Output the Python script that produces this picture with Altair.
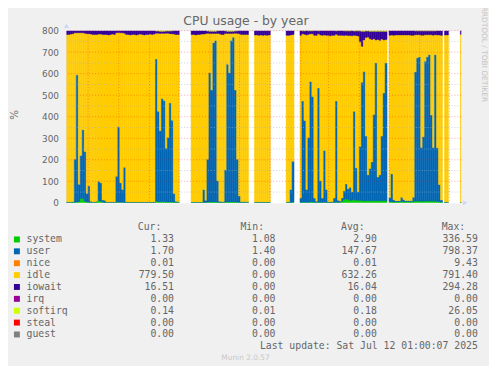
import altair as alt
import pandas as pd

N = None

SERIES = ["system", "user", "nice", "idle", "iowait", "irq", "softirq", "steal", "guest"]
COLORS = ["#00CC00", "#0066B3", "#FF8000", "#FFCC00", "#330099", "#990099", "#CCFF00", "#FF0000", "#808080"]

START = pd.Timestamp("2024-06-09")
STEP = pd.Timedelta(days=2)

# 2-day bins starting 2024-06-09 (None = no data)
user = [
    2, 2, 2, 3, 200, 590, 80, 200, 320, 230,
    40, 76, 5, 2, 2, 3, 90, 85, 10, 10,
    2, 2, 2, 2, 2, 120, 350, 90, 60, 163,
    3, 2, 2, 2, 2, 2, 2, 2, 2, 2,
    2, 2, 2, 2, 3, 660, 420, 330, 480, 470,
    250, 300, 460, 380, 40, 5, 3, N, N, N,
    N, N, N, 2, 2, 2, 2, 2, 2, 60,
    10, 200, 600, 520, 740, 750, 100, 5, 3, 3,
    150, 640, 600, 750, 765, 520, 200, 30, 3, 3,
    3, 3, N, N, N, 2, 2, 2, 2, 2,
    2, 2, 2, N, N, N, N, N, N, N,
    N, 2, 3, 60, 190, N, N, N, 20, 470,
    380, 60, 300, 560, 490, 20, 5, 530, 100, 20,
    240, 60, 3, 3, 3, 20, 470, 10, 5, 15,
    40, 70, 50, 60, 40, 410, 150, 40, 250, 550,
    600, 300, 120, 150, 180, 400, 640, 110, 120, 300,
    500, 640, N, 20, 130, 10, 5, 5, 5, 20,
    10, 5, 5, 5, 5, 20, 600, 665, 670, 250,
    300, 650, 670, 680, 400, 250, 680, 250, 80, 10,
    N, 2, 2, N, N, N, N, N, N, 2,
]
iowait = [
    18, 18, 16, 14, 10, 10, 10, 10, 10, 12,
    14, 14, 16, 18, 18, 18, 16, 16, 18, 18,
    18, 20, 18, 16, 18, 10, 9, 10, 10, 12,
    18, 18, 20, 18, 18, 20, 18, 16, 18, 20,
    18, 18, 16, 18, 16, 10, 10, 10, 9, 10,
    10, 10, 12, 14, 16, 18, 18, N, N, N,
    N, N, N, 18, 18, 20, 18, 18, 16, 16,
    14, 10, 10, 10, 10, 10, 12, 14, 18, 18,
    12, 10, 10, 10, 10, 10, 12, 14, 18, 18,
    18, 18, N, N, N, 20, 20, 22, 20, 22,
    20, 22, 20, N, N, N, N, N, N, N,
    N, 22, 22, 20, 18, N, N, N, 22, 14,
    16, 20, 16, 14, 14, 22, 22, 14, 20, 22,
    20, 22, 22, 24, 22, 22, 16, 22, 22, 22,
    22, 20, 22, 22, 24, 20, 22, 24, 50, 70,
    40, 30, 28, 35, 38, 35, 40, 38, 42, 36,
    40, 38, N, 22, 20, 22, 20, 20, 20, 20,
    20, 20, 20, 20, 22, 22, 18, 18, 18, 20,
    20, 18, 18, 18, 18, 20, 18, 20, 20, 22,
    N, 20, 20, N, N, N, N, N, N, 17,
]
system = [
    2, 2, 2, 2, 3, 4, 6, 20, 20, 8,
    4, 3, 2, 2, 2, 4, 10, 8, 3, 2,
    2, 2, 2, 2, 2, 3, 3, 3, 2, 2,
    2, 2, 2, 2, 2, 2, 2, 2, 2, 2,
    2, 2, 2, 2, 2, 8, 5, 5, 5, 5,
    4, 4, 4, 4, 3, 2, 2, N, N, N,
    N, N, N, 2, 2, 2, 2, 2, 2, 2,
    2, 3, 4, 4, 4, 4, 3, 2, 2, 2,
    3, 4, 4, 4, 4, 4, 3, 2, 2, 2,
    2, 2, N, N, N, 2, 2, 2, 2, 2,
    2, 2, 2, N, N, N, N, N, N, N,
    N, 2, 2, 2, 3, N, N, N, 2, 3,
    3, 2, 3, 4, 4, 2, 2, 3, 2, 2,
    3, 2, 2, 2, 2, 2, 3, 2, 3, 8,
    15, 18, 15, 12, 12, 15, 12, 12, 12, 10,
    10, 10, 10, 10, 10, 10, 10, 10, 10, 10,
    10, 10, N, 5, 5, 4, 4, 4, 5, 6,
    5, 5, 5, 5, 5, 6, 8, 8, 8, 7,
    7, 8, 8, 8, 8, 7, 8, 6, 5, 3,
    N, 2, 2, N, N, N, N, N, N, 1,
]
softirq = [
    0, 0, 0, 0, 0, 0, 0, 0, 0, 0,
    0, 0, 0, 0, 0, 0, 0, 0, 0, 0,
    0, 0, 0, 0, 0, 0, 0, 0, 0, 0,
    0, 0, 0, 0, 0, 0, 0, 0, 0, 0,
    0, 0, 0, 0, 0, 2, 2, 3, 3, 3,
    2, 2, 2, 1, 0, 0, 0, N, N, N,
    N, N, N, 0, 0, 0, 0, 0, 0, 0,
    0, 2, 3, 3, 3, 3, 1, 0, 0, 0,
    1, 3, 3, 3, 3, 2, 1, 0, 0, 0,
    0, 0, N, N, N, 0, 0, 0, 0, 0,
    0, 0, 0, N, N, N, N, N, N, N,
    N, 0, 0, 0, 0, N, N, N, 0, 1,
    1, 0, 1, 1, 1, 0, 0, 1, 0, 0,
    0, 0, 0, 0, 0, 0, 1, 0, 0, 0,
    1, 1, 1, 1, 0, 2, 1, 1, 2, 3,
    3, 2, 2, 3, 3, 3, 3, 3, 3, 3,
    3, 3, N, 0, 0, 0, 0, 0, 0, 0,
    0, 0, 0, 0, 0, 0, 1, 1, 1, 1,
    1, 1, 1, 1, 1, 1, 1, 0, 0, 0,
    N, 0, 0, N, N, N, N, N, N, 0,
]
idle = [
    778, 778, 780, 781, 587, 196, 704, 570, 450, 550,
    742, 707, 777, 778, 778, 775, 684, 691, 769, 770,
    778, 776, 778, 780, 778, 667, 438, 697, 728, 623,
    777, 778, 776, 778, 778, 776, 778, 780, 778, 776,
    778, 778, 780, 778, 779, 120, 363, 452, 303, 312,
    534, 484, 322, 401, 741, 775, 777, N, N, N,
    N, N, N, 778, 778, 776, 778, 778, 780, 722,
    774, 585, 183, 263, 43, 33, 684, 779, 777, 777,
    634, 143, 183, 33, 18, 264, 584, 754, 777, 777,
    777, 777, N, N, N, 776, 776, 774, 776, 774,
    776, 774, 776, N, N, N, N, N, N, N,
    N, 774, 773, 718, 589, N, N, N, 756, 312,
    400, 718, 480, 221, 291, 756, 771, 252, 678, 756,
    537, 716, 773, 771, 773, 756, 310, 766, 770, 755,
    722, 691, 712, 705, 724, 353, 615, 723, 486, 167,
    147, 458, 640, 602, 569, 352, 107, 639, 625, 451,
    247, 109, N, 753, 645, 764, 771, 771, 770, 754,
    765, 770, 770, 770, 768, 752, 173, 108, 103, 522,
    472, 123, 103, 93, 373, 522, 93, 524, 695, 765,
    N, 776, 776, N, N, N, N, N, N, 780,
]

Y_TICKS = list(range(0, 801, 100))
Y_MINOR = list(range(50, 800, 100))
MONTH_STARTS = pd.date_range("2024-07-01", "2025-07-01", freq="MS")

LEG_CUR = ["1.33", "1.70", "0.01", "779.50", "16.51", "0.00", "0.14", "0.00", "0.00"]
LEG_MIN = ["1.08", "1.40", "0.00", "0.00", "0.00", "0.00", "0.01", "0.00", "0.00"]
LEG_AVG = ["2.90", "147.67", "0.01", "632.26", "16.04", "0.00", "0.18", "0.00", "0.00"]
LEG_MAX = ["336.59", "798.37", "9.43", "791.40", "294.28", "0.00", "26.05", "0.00", "0.00"]

# ---------------- data table ----------------
STACK = [("system", system), ("user", user), ("idle", idle), ("iowait", iowait), ("softirq", softirq)]
rows = []
for i in range(len(user)):
    if user[i] is None:
        continue
    t0 = START + i * STEP
    t1 = t0 + STEP
    for name, arr in STACK:
        if arr[i] and arr[i] > 0:
            rows.append({"t0": t0, "t1": t1, "series": name,
                         "ord": SERIES.index(name), "value": arr[i]})
df = pd.DataFrame(rows)

W, H = 399, 174
xscale = alt.Scale(domain=[alt.DateTime(year=2024, month=6, date=9),
                           alt.DateTime(year=2025, month=7, date=13)])
yscale = alt.Scale(domain=[0, 800], nice=False, zero=True)
cscale = alt.Scale(domain=SERIES, range=COLORS)

FONT = "DejaVu Sans"
MONO = "DejaVu Sans Mono"
TXT = "#666666"

xaxis = alt.Axis(
    values=[alt.DateTime(year=2024, month=7, date=16), alt.DateTime(year=2024, month=10, date=16),
            alt.DateTime(year=2025, month=1, date=16), alt.DateTime(year=2025, month=4, date=16)],
    format="%B %Y", labelFont=FONT, labelFontSize=9.3, labelColor=TXT, labelPadding=3,
    ticks=False, tickSize=0, grid=False, domainColor="#CFD6F8", labelOverlap=False, title=None)
yaxis = alt.Axis(values=Y_TICKS, labelFont=FONT, labelFontSize=9, labelColor=TXT,
                 labelPadding=8, ticks=False, tickSize=0, grid=False,
                 domainColor="#CFD6F8", title=None)

bars = alt.Chart(df).transform_stack(
    stack="value", groupby=["t0"], as_=["y0", "y1"],
    sort=[alt.SortField("ord", order="ascending")]
).mark_bar(clip=True, strokeWidth=0.5).encode(
    x=alt.X("t0:T", scale=xscale, axis=xaxis),
    x2="t1:T",
    y=alt.Y("y0:Q", scale=yscale, axis=yaxis),
    y2="y1:Q",
    color=alt.Color("series:N", scale=cscale, legend=None),
    stroke=alt.Stroke("series:N", scale=cscale, legend=None),
)

minor = alt.Chart(pd.DataFrame({"v": Y_MINOR})).mark_rule(
    color="#B0B0B0", strokeOpacity=0.6, strokeDash=[1, 2], strokeWidth=1
).encode(y=alt.Y("v:Q", scale=yscale, axis=None))

major = alt.Chart(pd.DataFrame({"v": Y_TICKS[1:]})).mark_rule(
    color="#FF0000", strokeOpacity=0.35, strokeDash=[1, 2], strokeWidth=1
).encode(y=alt.Y("v:Q", scale=yscale, axis=None))

vgrid = alt.Chart(pd.DataFrame({"m": MONTH_STARTS})).mark_rule(
    color="#FF0000", strokeOpacity=0.35, strokeDash=[1, 2], strokeWidth=1
).encode(x=alt.X("m:T", scale=xscale, axis=None))

one = alt.Data(values=[{"k": 1}])
arrow_up = alt.Chart(one).mark_point(shape="triangle-up", filled=True, size=28,
                                     color="#CFD6F8", opacity=1).encode(
    x=alt.value(0), y=alt.value(-5))
arrow_right = alt.Chart(one).mark_point(shape="triangle-right", filled=True, size=28,
                                        color="#CFD6F8", opacity=1).encode(
    x=alt.value(403), y=alt.value(H))


def label(text, x, y, size, font=FONT, color=TXT, align="center", angle=0, baseline="middle"):
    return alt.Chart(one).mark_text(text=text, font=font, fontSize=size, color=color,
                                    align=align, baseline=baseline, angle=angle).encode(
        x=alt.value(x), y=alt.value(y))


title = label("CPU usage - by year", 181.5, -10, 12.5)
ytitle = label("%", -52, 85, 10.5, angle=270)
water = label("RRDTOOL / TOBI OETIKER", 421.5, 24, 7.5, color="#C4C4C4", angle=90)
footer = label("Munin 2.0.57", 181, 331, 7.5, color="#C8C8C8")
last_upd = label("Last update: Sat Jul 12 01:00:07 2025", 415.7, 318.7, 9.9, font=MONO, align="right")

heads = [label(h, x, 198.3, 9.9, font=MONO, align="right")
         for h, x in [("Cur:", 96), ("Min:", 199.7), ("Avg:", 301.3), ("Max:", 403)]]

leg = pd.DataFrame({"row": list(range(len(SERIES))), "name": SERIES, "hex": COLORS,
                    "cur": LEG_CUR, "min": LEG_MIN, "avg": LEG_AVG, "max": LEG_MAX})
leg_y = alt.Y("row:Q", scale=alt.Scale(domain=[0, 8], range=[211, 307]), axis=None)

squares = alt.Chart(leg).mark_square(size=36, filled=True, opacity=1).encode(
    x=alt.value(-50), y=leg_y, color=alt.Color("hex:N", scale=None))
names = alt.Chart(leg).mark_text(font=MONO, fontSize=9.9, color=TXT, align="left",
                                 baseline="middle").encode(
    x=alt.value(-40.3), y=leg_y, text="name:N")
cols = [alt.Chart(leg).mark_text(font=MONO, fontSize=9.9, color=TXT, align="right",
                                 baseline="middle").encode(
    x=alt.value(x), y=leg_y, text=f"{f}:N")
    for f, x in [("cur", 108.7), ("min", 211.3), ("avg", 313.7), ("max", 415.7)]]

chart = alt.layer(
    bars, minor, major, vgrid, arrow_up, arrow_right,
    title, ytitle, water, footer, last_upd, *heads, squares, names, *cols
).resolve_scale(y="independent").properties(
    width=W, height=H,
    autosize=alt.AutoSizeParams(type="none"),
    padding={"left": 59, "top": 21, "right": 28, "bottom": 163},
    background="#F0F0F0",
).configure_view(fill="white", stroke="transparent")

chart.save("out.html", embed_options={"renderer": "svg", "actions": False})
